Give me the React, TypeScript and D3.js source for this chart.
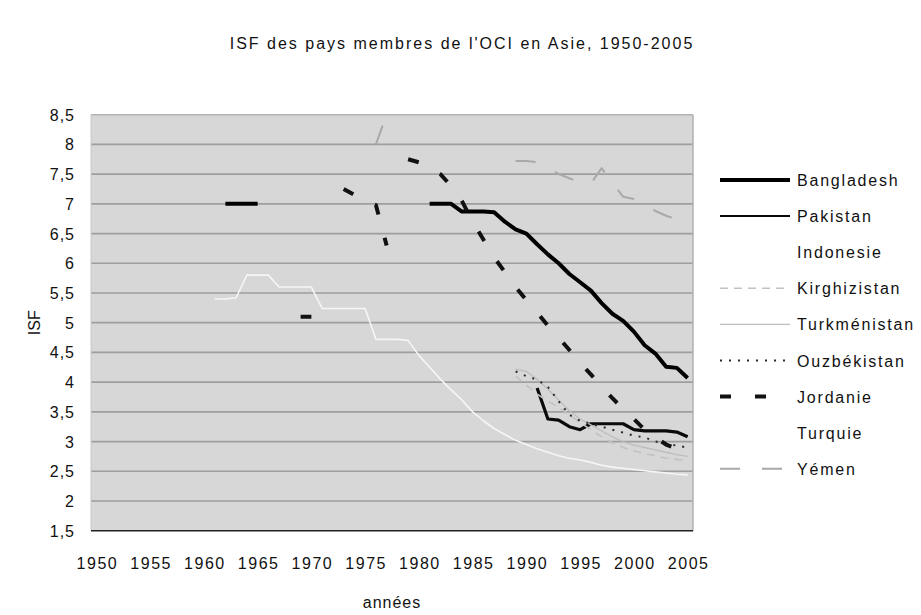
import React from "react";
import * as d3 from "d3";

// ---------- DATA ----------
const years: number[] = d3.range(1950, 2006);
const xTickYears = [1950, 1955, 1960, 1965, 1970, 1975, 1980, 1985, 1990, 1995, 2000, 2005];
const yTicks = [1.5, 2, 2.5, 3, 3.5, 4, 4.5, 5, 5.5, 6, 6.5, 7, 7.5, 8, 8.5];

type V = number | null;
const N = null;

// each series: values starting at a given year
const bangladeshStart = 1962;
const bangladesh: V[] = [7.0, 7.0, 7.0, 7.0,
  N, N, N, N, N, N, N, N, N, N, N, N, N, N, N,
  7.0, 7.0, 7.0, 6.87, 6.87, 6.87, 6.86, 6.7, 6.57, 6.5, 6.32, 6.15, 6.0, 5.82, 5.68, 5.54, 5.33, 5.15, 5.03, 4.85, 4.62, 4.48, 4.26, 4.24, 4.07];

const pakistanStart = 1991;
const pakistan: V[] = [3.9, 3.38, 3.36, 3.25, 3.2, 3.3, 3.3, 3.3, 3.3, 3.2, 3.18, 3.18, 3.18, 3.16, 3.08];

const indonesieStart = 1961;
const indonesie: V[] = [5.4, 5.4, 5.42, 5.8, 5.8, 5.8, 5.6, 5.6, 5.6, 5.6, 5.24, 5.24, 5.24, 5.24, 5.24,
  4.72, 4.72, 4.72, 4.7, 4.45, 4.25, 4.05, 3.87, 3.7, 3.5, 3.35, 3.22, 3.12, 3.02, 2.95, 2.88, 2.82,
  2.76, 2.72, 2.69, 2.65, 2.6, 2.57, 2.55, 2.53, 2.51, 2.49, 2.47, 2.45, 2.44];

const kirghizistanStart = 1989;
const kirghizistan: V[] = [4.1, 3.95, 3.8, 3.68, 3.58, 3.45, 3.32, 3.2, 3.08, 2.98, 2.9, 2.84, 2.8, 2.76, 2.72, 2.7, 2.68];

const turkmenistanStart = 1989;
const turkmenistan: V[] = [4.22, 4.18, 4.05, 3.88, 3.7, 3.52, 3.38, 3.28, 3.18, 3.08, 3.0, 2.94, 2.9, 2.86, 2.82, 2.78, 2.75];

const ouzbekistanStart = 1989;
const ouzbekistan: V[] = [4.18, 4.1, 4.04, 3.92, 3.68, 3.45, 3.35, 3.3, 3.25, 3.2, 3.15, 3.1, 3.07, 3.0, 2.97, 2.93, 2.9];

const jordanieStart = 1969;
const jordanie: V[] = [5.1, 5.1, N, N, 7.25, 7.15, 7.05, 6.98, 6.3, N,
  7.75, 7.7, 7.6, 7.5, 7.3, 7.05, 6.7, 6.4, 6.1, 5.85, 5.6, 5.38, 5.17, 4.95, 4.75, 4.54, 4.32, 4.13,
  3.92, 3.73, 3.55, 3.38, 3.2, 3.07, 2.95, 2.88, 2.82];

const turquieStart = 1950;
const turquie: V[] = [];

const yemenStart = 1976;
const yemen: V[] = [8.0, 8.5, N, N, N, N, N, N, N, N, N, N, N,
  7.72, 7.72, 7.7, 7.62, 7.5, 7.43, 7.36, 7.34, 7.6, 7.35, 7.12, 7.08, 7.0, 6.88, 6.8, 6.74, 6.68];

const pad = (start: number, vals: V[]): V[] =>
  years.map((yr) => {
    const i = yr - start;
    return i >= 0 && i < vals.length ? vals[i] : null;
  });

type Series = { name: string; data: V[]; color: string; width: number; dash?: string };

const series: Series[] = [
  { name: "Bangladesh", data: pad(bangladeshStart, bangladesh), color: "#000", width: 4 },
  { name: "Pakistan", data: pad(pakistanStart, pakistan), color: "#0a0a0a", width: 3.2 },
  { name: "Indonesie", data: pad(indonesieStart, indonesie), color: "#f6f6f6", width: 1.6 },
  { name: "Kirghizistan", data: pad(kirghizistanStart, kirghizistan), color: "#c2c2c2", width: 1.6, dash: "8,6" },
  { name: "Turkménistan", data: pad(turkmenistanStart, turkmenistan), color: "#bdbdbd", width: 1.3 },
  { name: "Ouzbékistan", data: pad(ouzbekistanStart, ouzbekistan), color: "#2a2a2a", width: 2, dash: "2,7" },
  { name: "Jordanie", data: pad(jordanieStart, jordanie), color: "#111", width: 4, dash: "11,24" },
  { name: "Turquie", data: pad(turquieStart, turquie), color: "#fafafa", width: 1.5 },
  { name: "Yémen", data: pad(yemenStart, yemen), color: "#a9a9a9", width: 2, dash: "20,22" },
];

// ---------- LAYOUT ----------
const W = 921;
const H = 615;
const plot = { left: 91, right: 693, top: 114.7, bottom: 530.7 };
const FONT = "'Liberation Sans', Arial, sans-serif";

export default function App() {
  const x = d3.scalePoint<number>().domain(years).range([plot.left, plot.right]).padding(0.5);
  const y = d3.scaleLinear().domain([1.5, 8.5]).range([plot.bottom, plot.top]);
  const line = d3
    .line<V>()
    .defined((v) => v != null)
    .x((_, i) => x(years[i]) as number)
    .y((v) => y(v as number));
  const fmt = (v: number) => String(v).replace(".", ",");
  const legendY = (i: number) => 180 + i * 36.1;

  return (
    <svg width={W} height={H} style={{ position: "absolute", left: 0, top: 0, background: "#fff" }} fontFamily={FONT}>
      <defs>
        <clipPath id="plotclip">
          <rect x={plot.left} y={plot.top} width={plot.right - plot.left} height={plot.bottom - plot.top} />
        </clipPath>
      </defs>
      <text x={462} y={49} textAnchor="middle" fontSize={16} letterSpacing={2} fill="#111">
        ISF des pays membres de l'OCI en Asie, 1950-2005
      </text>

      <rect x={plot.left} y={plot.top} width={plot.right - plot.left} height={plot.bottom - plot.top} fill="#d7d7d7" />
      {yTicks.slice(1, -1).map((t) => (
        <line key={t} x1={plot.left} x2={plot.right} y1={y(t)} y2={y(t)} stroke="#9e9e9e" strokeWidth={1.7} />
      ))}
      <line x1={plot.left} x2={plot.right} y1={plot.top} y2={plot.top} stroke="#b4b4b4" strokeWidth={1.5} />
      <line x1={plot.right} x2={plot.right} y1={plot.top} y2={plot.bottom} stroke="#b0b0b0" strokeWidth={1.5} />
      <line x1={plot.left} x2={plot.left} y1={plot.top} y2={plot.bottom} stroke="#c8c8c8" strokeWidth={1} />

      <g clipPath="url(#plotclip)">
        {series.map((s) => (
          <path
            key={s.name}
            d={line(s.data) || ""}
            fill="none"
            stroke={s.color}
            strokeWidth={s.width}
            strokeDasharray={s.dash}
            strokeLinejoin="round"
          />
        ))}
      </g>
      <line x1={plot.left} x2={plot.right} y1={plot.bottom} y2={plot.bottom} stroke="#222" strokeWidth={1.5} />

      {yTicks.map((t) => (
        <text key={t} x={75} y={y(t) + 6} textAnchor="end" fontSize={16} letterSpacing={1} fill="#111">
          {fmt(t)}
        </text>
      ))}
      {xTickYears.map((yr) => (
        <text key={yr} x={(x(yr) as number) + 1} y={569} textAnchor="middle" fontSize={16} letterSpacing={1.5} fill="#111">
          {yr}
        </text>
      ))}
      <text x={392} y={608} textAnchor="middle" fontSize={16} letterSpacing={1} fill="#111">
        années
      </text>
      <text transform={`translate(40,${(plot.top + plot.bottom) / 2}) rotate(-90)`} textAnchor="middle" fontSize={16} fill="#111">
        ISF
      </text>

      {series.map((s, i) => (
        <g key={s.name}>
          <line
            x1={720}
            x2={790}
            y1={legendY(i)}
            y2={legendY(i)}
            stroke={s.name === "Indonesie" || s.name === "Turquie" ? "#fff" : s.color}
            strokeWidth={s.name === "Pakistan" ? 2 : s.width}
            strokeDasharray={s.dash}
          />
          <text x={797} y={legendY(i) + 6} fontSize={16} letterSpacing={1.8} fill="#111">
            {s.name}
          </text>
        </g>
      ))}
    </svg>
  );
}
